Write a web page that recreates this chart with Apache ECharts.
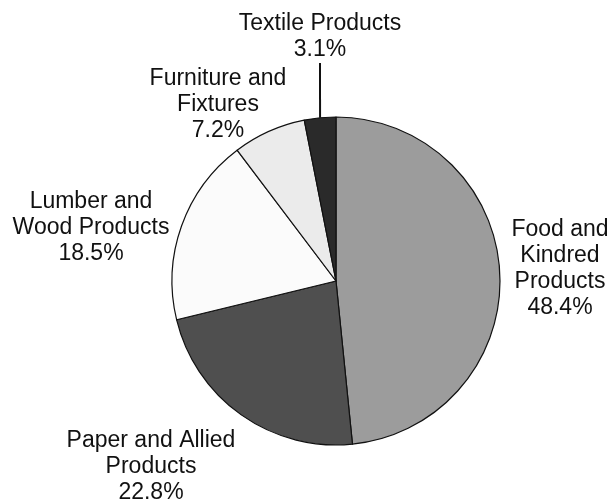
<!DOCTYPE html>
<html><head><meta charset="utf-8">
<script src="https://cdn.jsdelivr.net/npm/echarts@6/dist/echarts.min.js"></script>
<style>html,body{margin:0;padding:0;background:#fff}#c{width:612px;height:504px}</style>
</head><body><div id="c"></div>
<script>
const categories = ['Food and\nKindred\nProducts', 'Paper and Allied\nProducts', 'Lumber and\nWood Products', 'Furniture and\nFixtures', 'Textile Products'];
const values = [48.4, 22.8, 18.5, 7.2, 3.1];
const colors = ['#9c9c9c', '#4f4f4f', '#fbfbfb', '#ebebeb', '#2a2a2a'];
const labelSpots = [
  {x: 560, y: 269}, {x: 151, y: 467}, {x: 91, y: 228}, {x: 218, y: 105}, {x: 320, y: 37}
];
const chart = echarts.init(document.getElementById('c'), null, {renderer: 'canvas'});
chart.setOption({
  animation: false,
  series: [{
    type: 'pie',
    center: [336, 281],
    radius: 164,
    startAngle: 90,
    clockwise: true,
    data: categories.map((n, i) => ({
      name: n, value: values[i],
      itemStyle: {color: colors[i]},
      labelLine: {show: i === 4, length: 46, length2: 0, lineStyle: {color: '#111', width: 2}}
    })),
    itemStyle: {borderColor: '#111', borderWidth: 1.2},
    label: {
      show: true,
      formatter: p => p.name + '\n' + p.value.toFixed(1) + '%',
      fontFamily: 'Liberation Sans, Arial, sans-serif',
      fontSize: 23,
      lineHeight: 26,
      color: '#111',
      align: 'center',
      overflow: 'none'
    },
    labelLayout: p => {
      const s = labelSpots[p.dataIndex];
      return {x: s.x, y: s.y, align: 'center', verticalAlign: 'middle'};
    }
  }]
});
</script></body></html>
